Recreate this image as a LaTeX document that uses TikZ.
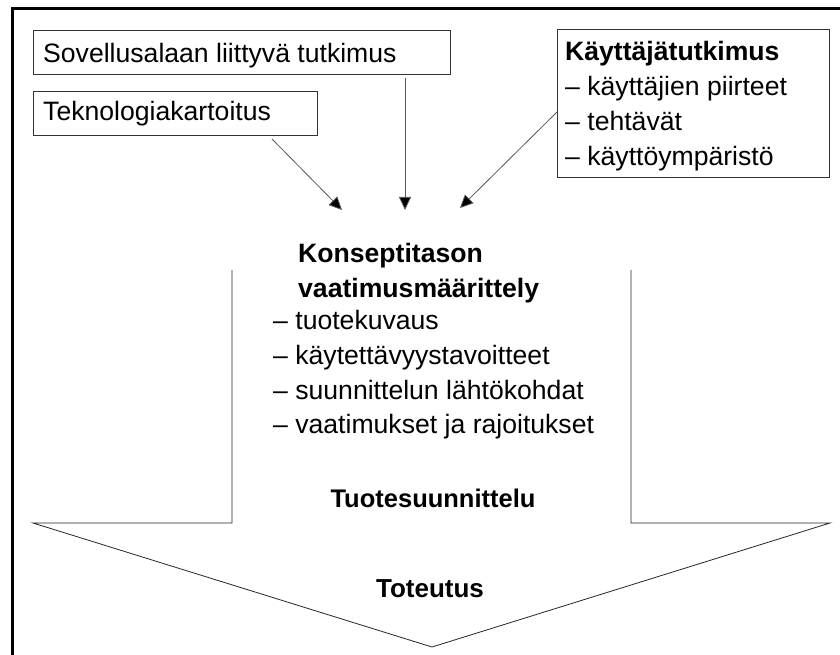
\documentclass[tikz,border=0pt]{standalone}
\usepackage{fontspec}
\setmainfont{Liberation Sans}
\usetikzlibrary{arrows.meta}
\begin{document}
\begin{tikzpicture}[x=1pt,y=-1pt,
  box/.style={draw=black!80,line width=0.8pt,inner sep=0pt,anchor=north west},
  txt/.style={anchor=base west,inner sep=0pt,font=\fontsize{26.6}{30}\selectfont},
  btxt/.style={anchor=base west,inner sep=0pt,font=\fontsize{26.6}{30}\selectfont\bfseries},
  ctxt/.style={anchor=base,inner sep=0pt,font=\fontsize{26}{30}\selectfont\bfseries},
  feed/.style={draw=black!65,line width=0.8pt,-{Triangle[length=13pt,width=12pt,fill=black]}},
  outline/.style={draw=black!85,line width=0.8pt}]
\useasboundingbox (0,0) rectangle (840,655);
\fill[white] (0,0) rectangle (840,655);
% outer frame (top and left visible)
\draw[line width=3.5pt] (12.5,655) -- (12.5,8.5) -- (840,8.5);

% input boxes
\node[box,minimum width=417pt,minimum height=44pt] (b1) at (33,30) {};
\node[txt] (t1) at (43,63) {Sovellusalaan liittyvä tutkimus};
\node[box,minimum width=284pt,minimum height=44pt] (b2) at (33,91) {};
\node[txt] (t2) at (43,121) {Teknologiakartoitus};
\node[box,minimum width=272pt,minimum height=148pt] (b3) at (557,29) {};
\node[btxt] (t3a) at (565,61) {Käyttäjätutkimus};
\node[txt] (t3b) at (565,96) {– käyttäjien piirteet};
\node[txt] (t3c) at (565,131) {– tehtävät};
\node[txt] (t3d) at (565,166) {– käyttöympäristö};

% arrows
\coordinate (s1) at (272,139);
\coordinate (e1) at (342,210);
\coordinate (s2) at (405,78);
\coordinate (e2) at (405,210);
\coordinate (s3) at (557,112);
\coordinate (e3) at (460,208);
\draw[feed] (s1) -- (e1);
\draw[feed] (s2) -- (e2);
\draw[feed] (s3) -- (e3);

% big arrow outline
\coordinate (p1) at (232,270);
\coordinate (p2) at (232,523);
\coordinate (p3) at (33,523);
\coordinate (p4) at (432,647);
\coordinate (p5) at (830,523);
\coordinate (p6) at (631,523);
\coordinate (p7) at (631,270);
\draw[outline] (p1) -- (p2) -- (p3) -- (p4) -- (p5) -- (p6) -- (p7);

% central texts
\node[btxt] (k1) at (298,262) {Konseptitason};
\node[btxt] (k2) at (298,297) {vaatimusmäärittely};
\node[txt] (k3) at (273,329) {– tuotekuvaus};
\node[txt] (k4) at (273,364) {– käytettävyystavoitteet};
\node[txt] (k5) at (273,399) {– suunnittelun lähtökohdat};
\node[txt] (k6) at (273,433) {– vaatimukset ja rajoitukset};
\node[ctxt,font=\fontsize{25.5}{30}\selectfont\bfseries] (tu) at (433,507) {Tuotesuunnittelu};
\node[ctxt] (to) at (430,597) {Toteutus};
\end{tikzpicture}
\end{document}
